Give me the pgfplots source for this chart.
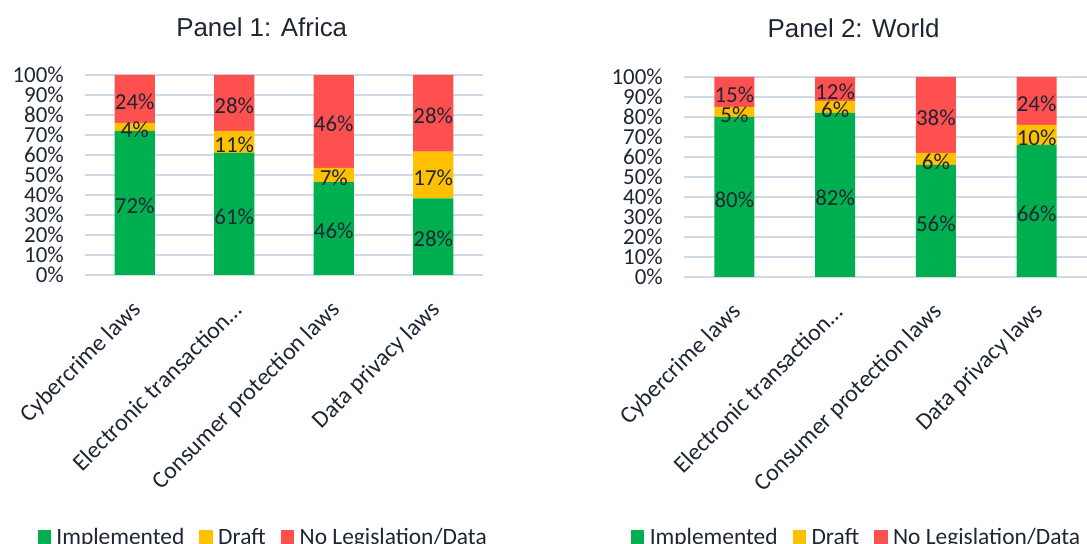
\documentclass[border=0pt]{standalone}
\usepackage{pgfplots}
\pgfplotsset{compat=1.18}
\usepackage{pgfplotstable}
\usepackage{fontspec}
\setmainfont{Carlito}
\newfontfamily\titlefont{Liberation Sans}
\definecolor{impl}{HTML}{00B050}
\definecolor{draft}{HTML}{FFC000}
\definecolor{nolaw}{HTML}{FF5050}
\definecolor{txt}{HTML}{1E2633}
\definecolor{gridc}{HTML}{D0D9E8}

% bar heights (100% stacked) and shown labels
\pgfplotstableread{
x impl  draft none  limpl ldraft lnone
0 72    4     24    72    4      24
1 61    11    28    61    11     28
2 46.46 7.07  46.46 46    7      46
3 38.36 23.28 38.36 28    17     28
}\africa
\pgfplotstableread{
x impl draft none limpl ldraft lnone
0 80   5     15   80    5      15
1 82   6     12   82    6      12
2 56   6     38   56    6      38
3 66   10    24   66    10     24
}\world

\pgfplotsset{
  panel/.style={
    scale only axis, height=200bp,
    ybar stacked, bar width=40bp,
    xmin=-0.5, xmax=3.5, ymin=0, ymax=100,
    /pgf/number format/assume math mode=true,
    ytick={0,10,...,100},
    yticklabel={\pgfmathprintnumber{\tick}\%},
    xtick={0,1,2,3},
    xticklabels={Cybercrime laws, Electronic transaction…, Consumer protection laws, Data privacy laws},
    axis line style={draw=none},
    major tick length=0pt,
    ymajorgrids, grid style={gridc, line width=1.8bp},
    tick label style={font=\fontsize{23}{27}\selectfont, text=txt},
    y tick label style={inner sep=0pt, xshift=-21bp},
    x tick label style={font=\fontsize{24}{28}\selectfont, xshift=3bp, yshift=-31bp, rotate=45, anchor=east, inner sep=0pt},
    point meta=explicit,
    nodes near coords={\pgfmathprintnumber{\pgfplotspointmeta}\%},
    nodes near coords style={anchor=center, yshift=-2.5bp, font=\fontsize{23}{27}\selectfont, text=txt, inner sep=0pt},
    legend columns=-1,
    legend image code/.code={\fill[##1] (0bp,-6.7bp) rectangle (13.4bp,6.7bp);},
    legend style={draw=none, fill=none, inner sep=0pt, font=\fontsize{23.5}{27}\selectfont, text=txt,
      nodes={inner sep=0pt},
      /tikz/every odd column/.style={column sep=5.5bp},
      /tikz/every even column/.style={column sep=15bp}},
    title style={font=\titlefont\fontsize{26}{30}\selectfont, text=txt, anchor=center, inner sep=0pt},
  }
}

\begin{document}
\begin{tikzpicture}
\path[use as bounding box] (0,0) rectangle (1087bp,544bp);
\begin{axis}[panel, width=398bp, at={(85bp,269bp)}, anchor=south west,
  title={Panel 1: Africa}, title style={at={(0.444,1)}, yshift=42bp},
  legend style={at={(-0.1198,-1.31)}, anchor=west}]
\addplot[fill=impl, draw=none] table[x=x, y=impl, meta=limpl] {\africa};
\addplot[fill=draft, draw=none] table[x=x, y=draft, meta=ldraft] {\africa};
\addplot[fill=nolaw, draw=none] table[x=x, y=none, meta=lnone] {\africa};
\legend{Implemented, Draft, No Legislation/Data}
\end{axis}
\begin{axis}[panel, width=403bp, at={(684bp,267bp)}, anchor=south west,
  title={Panel 2: World}, title style={at={(0.4206,1)}, yshift=42.7bp},
  legend style={at={(-0.1323,-1.30)}, anchor=west}]
\addplot[fill=impl, draw=none] table[x=x, y=impl, meta=limpl] {\world};
\addplot[fill=draft, draw=none] table[x=x, y=draft, meta=ldraft] {\world};
\addplot[fill=nolaw, draw=none] table[x=x, y=none, meta=lnone] {\world};
\legend{Implemented, Draft, No Legislation/Data}
\end{axis}
\end{tikzpicture}
\end{document}
